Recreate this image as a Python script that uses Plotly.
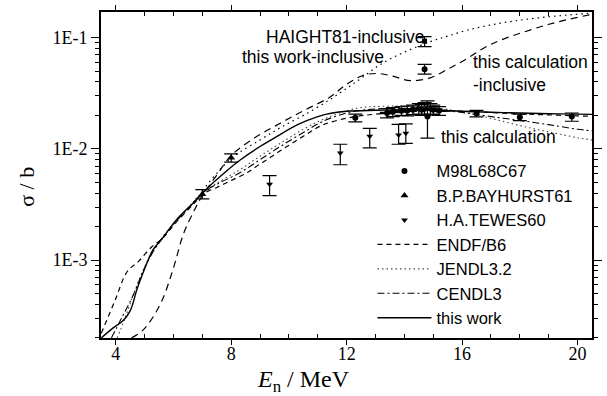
import plotly.graph_objects as go

# ---------------- data ----------------
# evaluated / calculated curves (E in MeV, sigma in b)
this_work_E = [3.5, 3.9, 4.25, 4.5, 4.75, 5.05, 5.3, 5.6, 6.1, 6.7, 7.2, 7.8, 8.3, 9.0, 9.6, 10.3,
               11.0, 11.5, 12.0, 13.0, 14.0, 15.0, 16.0, 17.0, 18.0, 19.0, 20.0, 20.5]
this_work = [2.0e-4, 2.45e-4, 2.85e-4, 3.5e-4, 5.6e-4, 9.0e-4, 1.25e-3, 1.55e-3, 2.3e-3, 3.3e-3,
             4.5e-3, 6.2e-3, 7.9e-3, 1.05e-2, 1.3e-2, 1.65e-2, 1.95e-2, 2.1e-2, 2.18e-2, 2.22e-2,
             2.24e-2, 2.22e-2, 2.18e-2, 2.13e-2, 2.1e-2, 2.07e-2, 2.05e-2, 2.04e-2]

endf_E = [3.5, 3.97, 4.4, 4.8, 5.25, 5.6, 6.1, 6.7, 7.0, 7.5, 8.0, 8.5, 9.0, 9.7, 10.5, 11.2,
          12.2, 13.0, 14.0, 15.0, 16.0, 17.0, 18.0, 19.0, 20.0, 20.5]
endf = [2.2e-4, 4.3e-4, 7.9e-4, 9.8e-4, 1.32e-3, 1.55e-3, 2.2e-3, 3.2e-3, 3.9e-3, 4.5e-3, 5.2e-3,
        6.0e-3, 7.3e-3, 9.6e-3, 1.3e-2, 1.65e-2, 1.93e-2, 2.05e-2, 2.15e-2, 2.2e-2, 2.18e-2,
        2.12e-2, 2.06e-2, 2.02e-2, 1.98e-2, 1.96e-2]

jendl_E = [4.05, 4.3, 4.65, 5.1, 5.56, 6.0, 6.5, 7.0, 7.5, 8.3, 9.0, 9.7, 10.5, 11.2, 12.0, 12.5,
           13.0, 14.0, 15.0, 16.0, 17.0, 18.0, 19.0, 20.0, 20.5]
jendl = [2.0e-4, 2.9e-4, 5.2e-4, 9.8e-4, 1.5e-3, 2.1e-3, 2.9e-3, 4.0e-3, 4.9e-3, 6.5e-3, 8.6e-3,
         1.12e-2, 1.5e-2, 1.85e-2, 2.2e-2, 2.35e-2, 2.4e-2, 2.42e-2, 2.35e-2, 2.15e-2, 1.88e-2,
         1.62e-2, 1.42e-2, 1.26e-2, 1.2e-2]

cendl_E = [3.85, 4.2, 4.6, 5.0, 5.5, 6.0, 6.5, 7.0, 7.5, 8.3, 9.0, 9.7, 10.5, 11.2, 12.0, 12.5,
           13.0, 14.0, 15.0, 16.0, 17.0, 18.0, 19.0, 20.0, 20.5]
cendl = [2.0e-4, 3.0e-4, 4.8e-4, 8.5e-4, 1.45e-3, 2.1e-3, 2.9e-3, 4.0e-3, 4.8e-3, 6.1e-3, 8.0e-3,
         1.05e-2, 1.4e-2, 1.78e-2, 2.1e-2, 2.22e-2, 2.28e-2, 2.3e-2, 2.25e-2, 2.12e-2, 1.95e-2,
         1.8e-2, 1.65e-2, 1.5e-2, 1.45e-2]

calc_incl_E = [4.55, 4.98, 5.56, 6.0, 6.34, 6.75, 7.0, 7.5, 8.0, 8.8, 9.7, 10.5, 11.4, 12.0, 12.6,
               13.1, 13.6, 14.2, 14.9, 15.5, 16.0, 17.0, 18.4, 19.4, 20.5]
calc_incl = [2.0e-4, 2.4e-4, 4.1e-4, 8.5e-4, 1.7e-3, 2.9e-3, 3.8e-3, 5.8e-3, 8.7e-3, 1.25e-2,
             1.7e-2, 2.2e-2, 2.9e-2, 3.8e-2, 4.6e-2, 4.75e-2, 4.5e-2, 4.1e-2, 4.35e-2, 5.2e-2,
             6.1e-2, 8.7e-2, 0.118, 0.14, 0.162]

work_incl_E = [7.0, 8.0, 9.0, 9.7, 10.5, 11.4, 12.0, 12.5, 13.2, 14.0, 14.9, 15.5, 16.2, 17.0,
               17.8, 18.7, 19.6, 20.5]
work_incl = [4.2e-3, 8.2e-3, 1.2e-2, 1.55e-2, 2.0e-2, 2.75e-2, 3.5e-2, 4.3e-2, 5.8e-2, 7.4e-2,
             9.2e-2, 0.103, 0.117, 0.13, 0.141, 0.151, 0.159, 0.166]

# experimental data
m98_E = [12.3, 13.4, 13.6, 13.9, 14.1, 14.3, 14.5, 14.6, 14.7, 14.9, 15.0, 15.2, 14.8, 16.5, 18.0, 19.8]
m98 = [1.9e-2, 2.1e-2, 2.15e-2, 2.2e-2, 2.2e-2, 2.25e-2, 2.3e-2, 2.25e-2, 2.3e-2, 2.3e-2, 2.25e-2,
       2.2e-2, 1.95e-2, 2.08e-2, 1.92e-2, 1.95e-2]
m98_err_up = [1.5e-3, 2.0e-3, 2.0e-3, 2.0e-3, 2.2e-3, 2.2e-3, 2.5e-3, 2.5e-3, 3.0e-3, 2.5e-3,
              2.2e-3, 2.0e-3, 7.5e-3, 1.4e-3, 1.3e-3, 1.5e-3]
m98_err_dn = [1.5e-3, 2.0e-3, 2.0e-3, 2.0e-3, 2.2e-3, 2.2e-3, 2.5e-3, 2.5e-3, 3.0e-3, 2.5e-3,
              2.2e-3, 2.0e-3, 7.0e-3, 1.4e-3, 1.3e-3, 1.8e-3]
m98_err_E = [0.0, 0.25, 0.25, 0.3, 0.3, 0.3, 0.3, 0.3, 0.3, 0.3, 0.3, 0.3, 0.0, 0.0, 0.0, 0.0]

incl_E = [14.7]
incl = [5.2e-2]
incl_err_up = [5.5e-3]
incl_err_dn = [5.0e-3]

haight_E = [14.7]
haight = [9.3e-2]
haight_err_up = [9.0e-3]
haight_err_dn = [1.0e-2]

bay_E = [7.0, 8.0]
bay = [3.9e-3, 8.3e-3]
bay_err_up = [4.0e-4, 7.0e-4]
bay_err_dn = [3.5e-4, 7.0e-4]

tewes_E = [9.33, 11.78, 12.8, 13.8, 14.05]
tewes = [4.8e-3, 9.2e-3, 1.3e-2, 1.33e-2, 1.38e-2]
tewes_err_up = [0.95e-3, 1.8e-3, 2.3e-3, 3.3e-3, 3.0e-3]
tewes_err_dn = [1.0e-3, 2.0e-3, 2.8e-3, 2.3e-3, 2.6e-3]

# ---------------- figure ----------------
SANS = "Liberation Sans, Arial, sans-serif"
SERIF = "Liberation Serif, Times New Roman, serif"

fig = go.Figure()

def eb(up, dn, w=7):
    return dict(type="data", symmetric=False, array=up, arrayminus=dn,
                color="black", thickness=1.2, width=w)

fig.add_trace(go.Scatter(x=m98_E, y=m98, mode="markers", name="M98L68C67",
                         marker=dict(symbol="circle", size=6, color="black"),
                         error_y=eb(m98_err_up, m98_err_dn),
                         error_x=dict(type="data", array=m98_err_E, color="black",
                                      thickness=2.5, width=0),
                         legendgroup="a"))
fig.add_trace(go.Scatter(x=bay_E, y=bay, mode="markers", name="B.P.BAYHURST61",
                         marker=dict(symbol="triangle-up", size=7, color="black"),
                         error_y=eb(bay_err_up, bay_err_dn), legendgroup="b"))
fig.add_trace(go.Scatter(x=tewes_E, y=tewes, mode="markers", name="H.A.TEWES60",
                         marker=dict(symbol="triangle-down", size=6, color="black"),
                         error_y=eb(tewes_err_up, tewes_err_dn), legendgroup="c"))
fig.add_trace(go.Scatter(x=endf_E, y=endf, mode="lines", name="ENDF/B6",
                         line=dict(color="black", width=1.2, dash="5px,4px"),
                         line_shape="spline", legendgroup="d"))
fig.add_trace(go.Scatter(x=jendl_E, y=jendl, mode="lines", name="JENDL3.2",
                         line=dict(color="#444444", width=1.1, dash="1.5px,3px"),
                         line_shape="spline", legendgroup="e"))
fig.add_trace(go.Scatter(x=cendl_E, y=cendl, mode="lines", name="CENDL3",
                         line=dict(color="black", width=1.1, dash="7px,3px,2px,3px"),
                         line_shape="spline", legendgroup="f"))
fig.add_trace(go.Scatter(x=this_work_E, y=this_work, mode="lines", name="this work",
                         line=dict(color="black", width=1.4),
                         line_shape="spline", legendgroup="g"))
# inclusive curves (not in legend)
fig.add_trace(go.Scatter(x=calc_incl_E, y=calc_incl, mode="lines", showlegend=False,
                         line=dict(color="black", width=1.2, dash="7px,5px"),
                         line_shape="spline"))
fig.add_trace(go.Scatter(x=work_incl_E, y=work_incl, mode="lines", showlegend=False,
                         line=dict(color="black", width=1.2, dash="1.5px,4px"),
                         line_shape="spline"))
fig.add_trace(go.Scatter(x=incl_E, y=incl, mode="markers", showlegend=False,
                         marker=dict(symbol="circle", size=6, color="black"),
                         error_y=eb(incl_err_up, incl_err_dn)))
fig.add_trace(go.Scatter(x=haight_E, y=haight, mode="markers", showlegend=False,
                         marker=dict(symbol="square", size=5, color="black"),
                         error_y=eb(haight_err_up, haight_err_dn)))

# texts on the plot
ann_font = dict(family=SANS, size=17.5, color="black")
def px(xp):
    return (xp - 101) / 501
def py(yp):
    return (338 - yp) / 331

fig.add_annotation(x=px(267), y=py(32), xref="paper", yref="paper",
                   text="HAIGHT81-inclusive", showarrow=False, xanchor="left",
                   yanchor="middle", font=ann_font)
fig.add_annotation(x=px(243), y=py(53), xref="paper", yref="paper",
                   text="this work-inclusive", showarrow=False, xanchor="left",
                   yanchor="middle", font=ann_font)
fig.add_annotation(x=px(479), y=py(69), xref="paper", yref="paper",
                   text="this calculation<br>-inclusive", showarrow=False, xanchor="left",
                   yanchor="middle", align="left", font=ann_font)
fig.add_annotation(x=px(446), y=py(134), xref="paper", yref="paper",
                   text="this calculation", showarrow=False, xanchor="left",
                   yanchor="middle", font=ann_font)
# axis titles
fig.add_annotation(x=px(308), y=py(382), xref="paper", yref="paper",
                   text="<i>E</i><sub>n</sub> / MeV", showarrow=False,
                   xanchor="center", yanchor="middle",
                   font=dict(family=SERIF, size=24, color="black"))
fig.add_annotation(x=px(25), y=py(185), xref="paper", yref="paper",
                   text="σ / b", showarrow=False, textangle=-90,
                   xanchor="center", yanchor="middle",
                   font=dict(family=SERIF, size=22, color="black"))

x_minor = [v for v in range(4, 21) if v % 4 != 0]
y_minor = [m * 10.0 ** e for e in (-4, -3, -2, -1) for m in range(2, 10)]

fig.update_xaxes(range=[3.49, 20.5], tickvals=[4, 8, 12, 16, 20], ticks="outside",
                 ticklen=5, tickwidth=1.3, tickcolor="black", showline=True,
                 linecolor="black", linewidth=1.6, mirror="allticks", showgrid=False,
                 zeroline=False, tickfont=dict(family=SERIF, size=18, color="black"),
                 ticklabelstandoff=-6,
                 minor=dict(tickvals=x_minor, ticks="inside", ticklen=4, tickwidth=1.2,
                            tickcolor="black", showgrid=False))
fig.update_yaxes(type="log", range=[-3.70, -0.77], tickvals=[1e-3, 1e-2, 1e-1],
                 ticktext=["1E-3", "1E-2", "1E-1"], ticks="outside", ticklen=8,
                 tickwidth=1.3, tickcolor="black", showline=True, linecolor="black",
                 linewidth=1.6, mirror="allticks", showgrid=False, zeroline=False,
                 tickfont=dict(family=SERIF, size=18, color="black"),
                 minor=dict(tickvals=y_minor, ticks="outside", ticklen=4, tickwidth=1.2,
                            tickcolor="black", showgrid=False))

fig.update_layout(
    width=607, height=396,
    margin=dict(l=101, r=5, t=7, b=58),
    paper_bgcolor="white", plot_bgcolor="white",
    legend=dict(x=px(378), y=py(151), xanchor="left", yanchor="top",
                bgcolor="rgba(0,0,0,0)", font=dict(family=SANS, size=16.5, color="black"),
                traceorder="grouped", tracegroupgap=0, itemwidth=54),
    showlegend=True,
)

fig.write_html("out.html")
